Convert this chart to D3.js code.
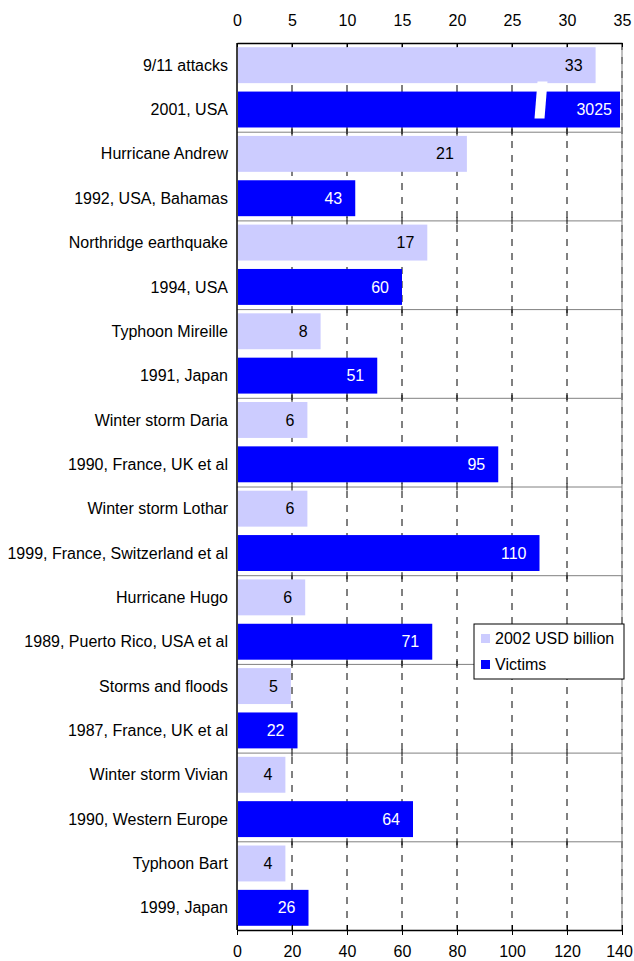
<!DOCTYPE html>
<html>
<head>
<meta charset="utf-8">
<script src="https://cdn.jsdelivr.net/npm/d3@7"></script>
<style>
  body { margin: 0; background: #fff; }
  svg { font-family: "Liberation Sans", Arial, sans-serif; }
</style>
</head>
<body>
<svg id="chart"></svg>
<script>
// Events, names and years/places
const events = ["9/11 attacks", "Hurricane Andrew", "Northridge earthquake", "Typhoon Mireille",
    "Winter storm Daria", "Winter storm Lothar", "Hurricane Hugo", "Storms and floods",
    "Winter storm Vivian", "Typhoon Bart"];
const places = ["2001, USA", "1992, USA, Bahamas", "1994, USA", "1991, Japan",
    "1990, France, UK et al", "1999, France, Switzerland et al", "1989, Puerto Rico, USA et al",
    "1987, France, UK et al", "1990, Western Europe", "1999, Japan"];

// Insured loss, 2002 USD billion (top axis)
const losses = [32.6, 20.9, 17.3, 7.6, 6.4, 6.4, 6.2, 4.9, 4.4, 4.4];
// Victims (bottom axis)
const victims = [3025, 43, 60, 51, 95, 110, 71, 22, 64, 26];

const lossTicks = [0, 5, 10, 15, 20, 25, 30, 35];
const victimTicks = [0, 20, 40, 60, 80, 100, 120, 140];

const width = 634, height = 961;
const margin = { top: 43, right: 12, bottom: 31, left: 237 };
const lightColor = "#ccccff", darkColor = "#0000ff";
const fontSize = "16px";

const svg = d3.select("#chart").attr("width", width).attr("height", height);

// One row per bar: loss bar then victims bar for each event
const rows = [];
events.forEach((e, i) => {
    rows.push({ label: e, kind: "loss", value: losses[i], group: i });
    rows.push({ label: places[i], kind: "victims", value: victims[i], group: i });
});

const xLoss = d3.scaleLinear().domain([0, 35]).range([margin.left, width - margin.right]);
const xVict = d3.scaleLinear().domain([0, 140]).range([margin.left, width - margin.right]).clamp(true);
const y = d3.scaleBand()
    .domain(rows.map((d, i) => i))
    .range([margin.top, height - margin.bottom])
    .paddingInner(0.19)
    .paddingOuter(0.095);
const yGroup = d3.scaleBand()
    .domain(events.map((d, i) => i))
    .range([margin.top, height - margin.bottom]);

const plotTop = margin.top, plotBottom = height - margin.bottom;
const plotLeft = margin.left, plotRight = width - margin.right;

// Dashed gridlines
svg.append("g")
    .selectAll("line")
    .data(victimTicks.slice(1))
    .join("line")
    .attr("x1", d => xVict(d)).attr("x2", d => xVict(d))
    .attr("y1", plotTop).attr("y2", plotBottom)
    .attr("stroke", "#000")
    .attr("stroke-width", 1)
    .attr("stroke-dasharray", "7,7");

// Bars
svg.append("g")
    .selectAll("rect")
    .data(rows)
    .join("rect")
    .attr("x", plotLeft + 1)
    .attr("y", (d, i) => y(i))
    .attr("height", y.bandwidth())
    .attr("width", d => (d.kind === "loss" ? xLoss(d.value) : Math.min(xVict(d.value), plotRight - 2)) - plotLeft - 1)
    .attr("fill", d => d.kind === "loss" ? lightColor : darkColor);

// Break mark on the 3025 bar
const brokenRow = rows.findIndex(d => d.kind === "victims" && d.value > 140);
if (brokenRow >= 0) {
    const bx = xVict(110), by = y(brokenRow);
    svg.append("path")
        .attr("d", `M${bx - 2},${by - 10} L${bx + 8},${by - 10} L${bx + 5},${by + y.bandwidth() - 9} L${bx - 5},${by + y.bandwidth() - 9} Z`)
        .attr("fill", "#fff");
}

// Group separators
const seps = d3.range(1, events.length).map(i => yGroup(i));
svg.append("g")
    .selectAll("line")
    .data(seps)
    .join("line")
    .attr("x1", plotLeft).attr("x2", plotRight)
    .attr("y1", d => d + 0.5).attr("y2", d => d + 0.5)
    .attr("stroke", "#808080")
    .attr("stroke-width", 1);

// Small ticks on the separators
const sepTicks = svg.append("g");
seps.forEach(s => {
    sepTicks.append("g").selectAll("line")
        .data(victimTicks.slice(1, -1))
        .join("line")
        .attr("x1", d => xVict(d)).attr("x2", d => xVict(d))
        .attr("y1", s - 3).attr("y2", s + 4)
        .attr("stroke", "#000");
});

// Frame
svg.append("line").attr("x1", plotRight).attr("x2", plotRight).attr("y1", plotTop).attr("y2", plotBottom)
    .attr("stroke", "#808080");
svg.append("line").attr("x1", plotLeft).attr("x2", plotLeft).attr("y1", plotTop).attr("y2", plotBottom)
    .attr("stroke", "#000").attr("stroke-width", 1.5);

// Top axis (loss)
const axTop = svg.append("g")
    .attr("transform", `translate(0,${plotTop})`)
    .call(d3.axisTop(xLoss).tickValues(lossTicks).tickSizeInner(-4).tickSizeOuter(0).tickPadding(17));
axTop.select(".domain").attr("stroke", "#000").attr("stroke-width", 1.5);
axTop.selectAll("text").attr("font-size", fontSize).attr("fill", "#000");

// Bottom axis (victims)
const axBot = svg.append("g")
    .attr("transform", `translate(0,${plotBottom})`)
    .call(d3.axisBottom(xVict).tickValues(victimTicks).tickSizeInner(5).tickSizeOuter(0).tickPadding(11));
axBot.select(".domain").attr("stroke", "#000").attr("stroke-width", 1.5);
axBot.selectAll(".tick line").attr("y1", -5);
axBot.selectAll("text").attr("font-size", fontSize).attr("fill", "#000");
// keep the last label inside the page
axBot.selectAll("text").filter(d => d === 140).attr("dx", -3);

// Category labels
svg.append("g")
    .selectAll("text")
    .data(rows)
    .join("text")
    .attr("x", plotLeft - 9)
    .attr("y", (d, i) => y(i) + y.bandwidth() / 2)
    .attr("dy", "0.35em")
    .attr("text-anchor", "end")
    .attr("font-size", fontSize)
    .attr("fill", "#000")
    .text(d => d.label);

// Value labels
svg.append("g")
    .selectAll("text")
    .data(rows)
    .join("text")
    .attr("x", d => (d.kind === "loss" ? xLoss(d.value) : Math.min(xVict(d.value), plotRight - 2)) - (d.value > 140 ? 8 : 13))
    .attr("y", (d, i) => y(i) + y.bandwidth() / 2)
    .attr("dy", "0.35em")
    .attr("text-anchor", "end")
    .attr("font-size", fontSize)
    .attr("fill", d => d.kind === "loss" ? "#000" : "#fff")
    .text(d => d3.format(".0f")(d.value));

// Legend
const legend = svg.append("g").attr("transform", "translate(474,624)");
legend.append("rect")
    .attr("width", 150).attr("height", 55)
    .attr("fill", "#fff").attr("stroke", "#000");
const items = [{ name: "2002 USD billion", color: lightColor }, { name: "Victims", color: darkColor }];
const li = legend.selectAll("g.item")
    .data(items)
    .join("g")
    .attr("class", "item")
    .attr("transform", (d, i) => `translate(7,${10 + i * 26})`);
li.append("rect").attr("width", 9).attr("height", 9).attr("fill", d => d.color);
li.append("text")
    .attr("x", 14).attr("y", 4.5).attr("dy", "0.35em")
    .attr("font-size", fontSize)
    .text(d => d.name);
</script>
</body>
</html>
